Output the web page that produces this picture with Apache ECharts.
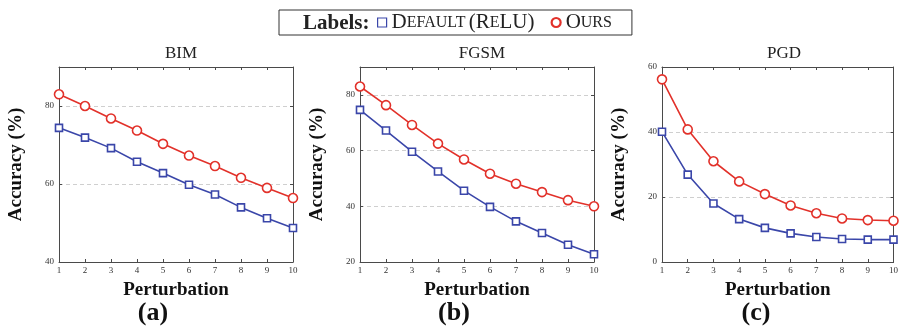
<!DOCTYPE html>
<html>
<head>
<meta charset="utf-8">
<style>
  html, body { margin: 0; padding: 0; background: #fff; }
  #chart { width: 901px; height: 327px; }
</style>
<script src="https://cdn.jsdelivr.net/npm/echarts@6/dist/echarts.min.js"></script>
</head>
<body>
<div id="chart"></div>
<script>
// perturbation steps on the x axis
const steps = [1, 2, 3, 4, 5, 6, 7, 8, 9, 10];

const panelTitles = ["BIM", "FGSM", "PGD"];
const panelTags = ["(a)", "(b)", "(c)"];

// accuracy (%)
const bimDefault = [74.4, 71.9, 69.2, 65.7, 62.8, 59.8, 57.3, 54.0, 51.2, 48.7];
const bimOurs = [83.0, 80.0, 76.8, 73.7, 70.3, 67.3, 64.6, 61.6, 59.0, 56.4];
const fgsmDefault = [74.6, 67.2, 59.6, 52.5, 45.6, 39.8, 34.6, 30.4, 26.2, 22.8];
const fgsmOurs = [83.0, 76.3, 69.2, 62.5, 56.8, 51.7, 48.1, 45.1, 42.2, 40.0];
const pgdDefault = [40.1, 26.9, 18.0, 13.2, 10.5, 8.8, 7.7, 7.1, 6.9, 6.9];
const pgdOurs = [56.2, 40.8, 31.0, 24.8, 20.9, 17.4, 15.0, 13.4, 12.9, 12.7];

// y ranges per panel: [min, max, interval]
const yRanges = [[40, 90, 20], [20, 90, 20], [0, 60, 20]];

const defaultSeries = [bimDefault, fgsmDefault, pgdDefault];
const oursSeries = [bimOurs, fgsmOurs, pgdOurs];

const BLUE = "#3a46a9";
const RED = "#e2312a";
const FRAME = "#4a4a4a";
const SERIF = "'Liberation Serif', 'DejaVu Serif', serif";

const gridLefts = [59, 360, 662];
const gridWidth = 234;
const tagCenters = [153, 454, 756];

const chart = echarts.init(document.getElementById("chart"));

const grids = [], xAxes = [], yAxes = [], series = [], titles = [], tags = [];

gridLefts.forEach((left, i) => {
  grids.push({ left, top: 67, width: gridWidth, height: 195 });
  const frame = { show: true, onZero: false, lineStyle: { color: FRAME, width: 1 } };
  const tick = { show: true, inside: true, length: 3, lineStyle: { color: FRAME } };

  xAxes.push({
    gridIndex: i, type: "value", position: "bottom",
    min: 1, max: 10, interval: 1,
    axisLine: frame, axisTick: tick, splitLine: { show: false },
    axisLabel: { color: "#333", fontFamily: SERIF, fontSize: 9, margin: 4 },
    name: "Perturbation", nameLocation: "middle", nameGap: 19,
    nameTextStyle: { color: "#111", fontFamily: SERIF, fontSize: 19, fontWeight: "bold" },
  });
  xAxes.push({
    gridIndex: i, type: "value", position: "top",
    min: 1, max: 10, interval: 1,
    axisLine: frame, axisTick: tick, axisLabel: { show: false }, splitLine: { show: false },
  });

  const [ymin, ymax, step] = yRanges[i];
  yAxes.push({
    gridIndex: i, type: "value", position: "left",
    min: ymin, max: ymax, interval: step,
    axisLine: frame, axisTick: tick,
    axisLabel: { color: "#333", fontFamily: SERIF, fontSize: 9, margin: 5, showMaxLabel: ymax % step === 0 },
    splitLine: { show: true, lineStyle: { color: "#cfcfcf", type: [4, 3] } },
    name: "Accuracy (%)", nameLocation: "middle", nameGap: 33,
    nameTextStyle: { color: "#111", fontFamily: SERIF, fontSize: 19, fontWeight: "bold" },
  });
  yAxes.push({
    gridIndex: i, type: "value", position: "right",
    min: ymin, max: ymax, interval: step,
    axisLine: frame, axisTick: tick, axisLabel: { show: false }, splitLine: { show: false },
  });

  series.push({
    name: "Default (ReLU)", type: "line",
    xAxisIndex: i * 2, yAxisIndex: i * 2,
    data: steps.map((s, k) => [s, defaultSeries[i][k]]),
    symbol: "rect", symbolSize: 7, clip: false,
    lineStyle: { color: BLUE, width: 1.6 },
    itemStyle: { color: "#fff", borderColor: BLUE, borderWidth: 1.6 },
  });
  series.push({
    name: "Ours", type: "line",
    xAxisIndex: i * 2, yAxisIndex: i * 2,
    data: steps.map((s, k) => [s, oursSeries[i][k]]),
    symbol: "circle", symbolSize: 9, clip: false,
    lineStyle: { color: RED, width: 1.6 },
    itemStyle: { color: "#fff", borderColor: RED, borderWidth: 1.6 },
  });

  titles.push({
    text: panelTitles[i], left: left + gridWidth / 2, top: 40, textAlign: "center",
    textStyle: { fontFamily: SERIF, fontSize: 17, fontWeight: "normal", color: "#222" },
  });
  tags.push({
    type: "text", x: tagCenters[i], y: 313,
    style: { text: panelTags[i], font: "bold 26px " + SERIF, fill: "#111", align: "center", verticalAlign: "middle" },
  });
});

// small caps for the legend names
const legendRich = {
  b: { fontFamily: SERIF, fontSize: 21, color: "#222" },
  s: { fontFamily: SERIF, fontSize: 16, color: "#222" },
};

chart.setOption({
  animation: false,
  title: titles,
  grid: grids,
  xAxis: xAxes,
  yAxis: yAxes,
  series,
  legend: {
    left: 279, top: 10,
    padding: [2, 20, 2, 98],
    borderColor: "#333", borderWidth: 1,
    itemWidth: 9, itemHeight: 9, itemGap: 16,
    data: [
      { name: "Default (ReLU)", icon: "rect", itemStyle: { color: "#fff", borderColor: BLUE, borderWidth: 1.2 } },
      { name: "Ours", icon: "circle", itemStyle: { color: "#fff", borderColor: RED, borderWidth: 2.2 } },
    ],
    formatter: (name) =>
      name === "Ours" ? "{b|O}{s|URS}" : "{b|D}{s|EFAULT} {b|(R}{s|E}{b|LU)}",
    textStyle: { rich: legendRich },
  },
  graphic: [
    {
      type: "text", left: 303, top: 13,
      style: { text: "Labels:", font: "bold 21px " + SERIF, fill: "#222" },
    },
    ...tags,
  ],
});
</script>
</body>
</html>
